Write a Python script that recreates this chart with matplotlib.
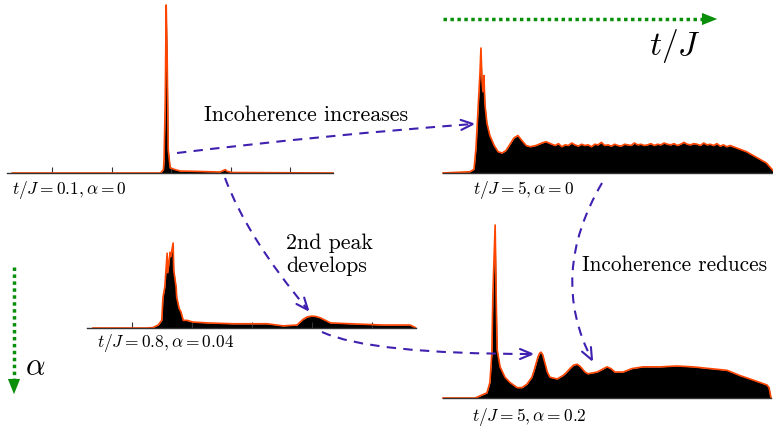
import numpy as np
import matplotlib.pyplot as plt
from matplotlib.path import Path
from matplotlib.patches import PathPatch, FancyArrowPatch

plt.rcParams['mathtext.fontset'] = 'cm'

# spectra (intensity: peak = 100)
w1 = [-2.67, -0.18, -0.13, -0.12, -0.10, -0.084, -0.067, -0.05, -0.017, 0.067,
      0.15, 0.49, 0.82, 0.91, 0.94, 1.03, 2.72]
s1 = [0, 0, 2, 8, 43, 100, 67, 14, 3, 2, 1.2, 0.9, 0.6, 2, 1, 0.3, 0]

w2 = [0, 8.2, 9.4, 10.0, 10.6, 11.2, 11.5, 11.8, 12.1, 12.4, 12.7, 13.3, 14.2,
      15.5, 16.7, 17.9, 19.1, 20.3, 21.5, 22.7, 23.9, 25.2, 26.4, 28.2, 30.0,
      31.2, 33.0] + list(range(34, 88)) + [88, 90, 92, 94, 96, 98, 99, 100]
s2 = [0, 1, 3, 20, 50, 80, 100, 75, 65, 78, 55, 40, 30,
      22, 17, 16, 18, 23, 28, 30, 26, 22, 21, 22, 24,
      25, 23,
      22.0, 23.5, 21.0, 22.5, 22.0, 24.0, 22.5, 21.5, 23.0, 22.0,
      22.5, 21.0, 23.0, 22.5, 24.5, 22.0, 22.5, 21.5, 23.0, 22.0,
      21.5, 23.0, 22.5, 22.0, 24.0, 22.5, 23.0, 22.0, 22.5, 23.5,
      22.0, 23.0, 22.5, 24.0, 23.0, 22.5, 23.5, 22.0, 23.0, 24.5,
      23.0, 22.5, 23.5, 23.0, 22.0, 24.0, 22.5, 23.0, 22.0, 23.5,
      21.5, 22.5, 21.0, 22.0,
      21, 19, 17, 14, 11, 8, 5, 2]

w3 = [-2.66, -1.76, -1.66, -1.57, -1.51, -1.49, -1.46, -1.42, -1.41, -1.37,
      -1.36, -1.32, -1.31, -1.27, -1.26, -1.22, -1.19, -1.15, -1.09, -0.99,
      -0.75, -0.32, 0.25, 0.52, 0.75, 0.85, 0.92, 1.0, 1.07, 1.14, 1.31, 1.64,
      2.19, 2.48, 2.64, 2.73]
s3 = [0, 0, 0.5, 3.5, 9, 36, 48, 88, 65, 89,
      84, 100, 68, 48, 36, 23, 19, 9, 9, 7,
      6, 5, 5, 2.5, 3.5, 10, 13, 14, 13.5, 12, 6, 5,
      3.5, 3.5, 3.5, 0.5]

w4 = [0, 9.8, 13.4, 14.3, 14.9, 15.2, 15.9, 16.2, 16.5, 17.4, 18.9, 20.4,
      22.6, 24.1, 25.6, 27.1, 27.8, 28.4, 29.0, 29.5, 29.9, 30.4, 31.1, 31.8,
      32.6, 34.8, 36.6, 37.5, 38.7, 39.8, 40.9, 41.7, 42.4, 43.3, 44.2, 47.0,
      48.5, 50.0, 51.2, 52.4, 54.9, 57.6, 61.0, 66.2, 71.3, 76.2, 81.4, 86.6,
      90.5, 93.6, 96.6, 98.8, 99.4, 100]
s4 = [0, 0, 3, 9, 26, 60, 100, 60, 28, 18, 12, 9,
      6, 6, 8, 12, 16, 20, 24, 26, 26.5, 25, 20, 15,
      12, 11, 13, 14.5, 17, 19, 19.5, 18.5, 17, 15, 14, 15,
      16.5, 18, 17, 15, 15, 17, 18, 18, 18.5, 18, 17, 16,
      13, 11, 9, 7.5, 6, 0]

labels = [r'$t/J=0.1, \alpha=0$', r'$t/J=5, \alpha=0$',
          r'$t/J=0.8, \alpha=0.04$', r'$t/J=5, \alpha=0.2$']

W, H = 773, 432
fig = plt.figure(figsize=(W / 100, H / 100), dpi=100)


def panel(x0, x1, base, top, w, s, xlim, ticks):
    ax = fig.add_axes([x0 / W, 1 - base / H, (x1 - x0) / W, (base - top) / H])
    ax.fill_between(w, s, 0, color='black', lw=0)
    ax.plot(w, s, color='#ff4500', lw=1.2, clip_on=False)
    ax.set_xlim(*xlim)
    ax.set_ylim(0, 100)
    for sp in ['top', 'left', 'right']:
        ax.spines[sp].set_visible(False)
    ax.spines['bottom'].set_color('#333333')
    ax.spines['bottom'].set_linewidth(1)
    ax.set_yticks([])
    ax.set_xticks(ticks)
    ax.tick_params(axis='x', direction='in', length=4, width=0.8,
                   color='#333333', labelbottom=False)
    ax.patch.set_visible(False)
    return ax


panel(7, 333, 173, 5, w1, s1, (-2.76, 2.72), [-2, -1, 0, 1, 2])
panel(443, 773, 173, 48, w2, s2, (0, 100), [])
panel(87, 416, 328, 243, w3, s3, (-2.76, 2.74), [-2, -1, 0, 1, 2])
panel(443, 771, 398, 225, w4, s4, (0, 100), [])

# overlay in pixel units for arrows and text
ov = fig.add_axes([0, 0, 1, 1])
ov.set_xlim(0, W)
ov.set_ylim(H, 0)
ov.axis('off')
ov.patch.set_visible(False)

purple = '#4020b0'


def dashed_arrow(p0, c, p1):
    path = Path([p0, c, p1], [Path.MOVETO, Path.CURVE3, Path.CURVE3])
    ov.add_patch(PathPatch(path, fill=False, ec=purple, lw=1.5,
                           ls=(0, (4.5, 3.5))))
    t = np.array(p1, float) - np.array(c, float)
    t /= np.hypot(*t)
    n = np.array([-t[1], t[0]])
    e = np.array(p1, float)
    h1 = e - 12 * t + 5 * n
    h2 = e - 12 * t - 5 * n
    ov.plot([h1[0], e[0], h2[0]], [h1[1], e[1], h2[1]], color=purple,
            lw=1.5, solid_capstyle='round', solid_joinstyle='miter')


dashed_arrow((177, 153), (325, 135), (473, 124))
dashed_arrow((225, 178), (247, 237), (308, 310))
dashed_arrow((322, 332), (370, 354), (532, 354))
dashed_arrow((602, 183), (548, 275), (592, 360))

green = '#0a8f0a'
head = '-|>,head_length=0.55,head_width=0.22'
ov.plot([443, 706], [19, 19], color=green, lw=2.5, ls=(0, (1, 1)))
ov.add_patch(FancyArrowPatch((700, 19), (720, 19), arrowstyle=head,
                             mutation_scale=20, color=green, lw=0))
ov.plot([14, 14], [267, 383], color=green, lw=2.5, ls=(0, (1, 1)))
ov.add_patch(FancyArrowPatch((14, 378), (14, 397), arrowstyle=head,
                             mutation_scale=20, color=green, lw=0))

ov.text(649, 46, r'$t/J$', fontsize=24, ha='left', va='center')
ov.text(25, 367, r'$\alpha$', fontsize=22, ha='left', va='center')

ov.text(12, 190, labels[0], fontsize=12.5, ha='left', va='center')
ov.text(473, 190, labels[1], fontsize=12.5, ha='left', va='center')
ov.text(97, 343, labels[2], fontsize=12.5, ha='left', va='center')
ov.text(472, 417, labels[3], fontsize=12.5, ha='left', va='center')

ov.text(204, 115, 'Incoherence increases', fontsize=15.8, family='cmr10',
        ha='left', va='center')
ov.text(286, 255, '2nd peak\ndevelops', fontsize=15.8, family='cmr10',
        ha='left', va='center', linespacing=1.2)
ov.text(582, 265, 'Incoherence reduces', fontsize=15.3, family='cmr10',
        ha='left', va='center')

fig.savefig('out.png', dpi=100)
